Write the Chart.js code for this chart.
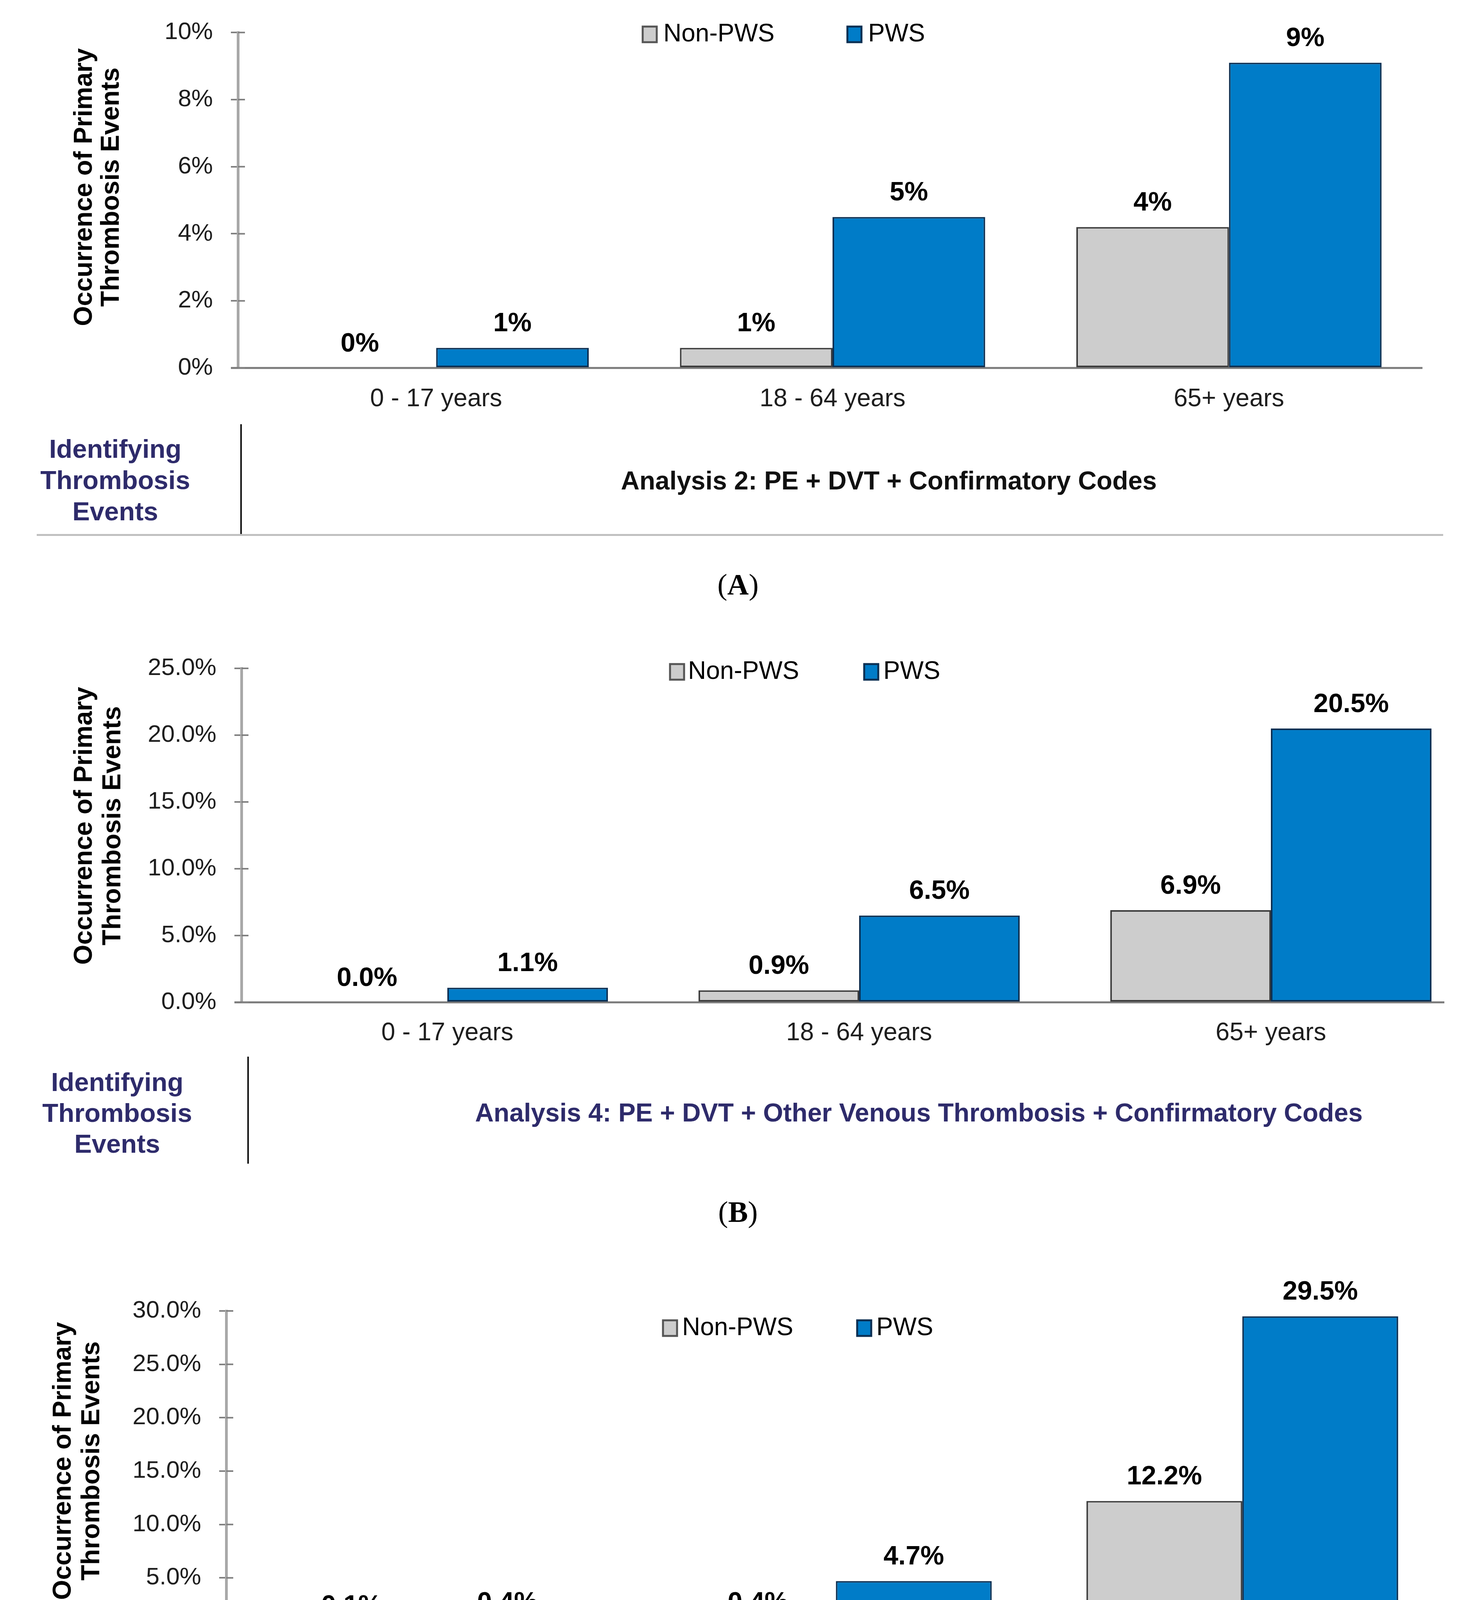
<!DOCTYPE html>
<html><head><meta charset="utf-8">
<script src="https://cdn.jsdelivr.net/npm/chart.js@4.4.0/dist/chart.umd.min.js"></script>
<style>
html,body{margin:0;padding:0;background:#fff;width:3778px;height:4796px;overflow:hidden;position:relative;}
canvas{position:absolute;left:0;}
.t{position:absolute;font-family:"Liberation Sans",Arial,sans-serif;font-weight:bold;white-space:nowrap;transform:translate(-50%,-50%);line-height:1;}
.navy{color:#2e2b6b;}
.blk{color:#111;}
.cap{position:absolute;font-family:"Liberation Serif","Times New Roman",serif;font-size:76px;transform:translate(-50%,-50%);line-height:1;color:#000;}
.ln{position:absolute;}
</style></head><body>
<canvas id="cA"></canvas>
<canvas id="cB"></canvas>
<canvas id="cC"></canvas>

<!-- Table A -->
<div class="ln" style="left:615px;top:1086px;width:4px;height:284px;background:#111;"></div>
<div class="ln" style="left:94px;top:1367px;width:3600px;height:5px;background:#c0c0c0;"></div>
<div class="t navy" style="left:295px;top:1148px;font-size:67px;">Identifying</div>
<div class="t navy" style="left:295px;top:1228px;font-size:67px;">Thrombosis</div>
<div class="t navy" style="left:295px;top:1308px;font-size:67px;">Events</div>
<div class="t blk" style="left:2275px;top:1230px;font-size:66px;">Analysis 2: PE + DVT + Confirmatory Codes</div>
<div class="cap" style="left:1889px;top:1496px;">(<b>A</b>)</div>

<!-- Table B -->
<div class="ln" style="left:633px;top:2705px;width:4px;height:274px;background:#111;"></div>
<div class="t navy" style="left:300px;top:2769px;font-size:67px;">Identifying</div>
<div class="t navy" style="left:300px;top:2848px;font-size:67px;">Thrombosis</div>
<div class="t navy" style="left:300px;top:2927px;font-size:67px;">Events</div>
<div class="t navy" style="left:2352px;top:2848px;font-size:66px;">Analysis 4: PE + DVT + Other Venous Thrombosis + Confirmatory Codes</div>
<div class="cap" style="left:1889px;top:3102px;">(<b>B</b>)</div>

<!-- Table C -->
<div class="ln" style="left:591px;top:4311px;width:4px;height:272px;background:#111;"></div>
<div class="ln" style="left:57px;top:4572px;width:3660px;height:4px;background:#c0c0c0;"></div>
<div class="ln" style="left:57px;top:4576px;width:3660px;height:7px;background:#000;"></div>
<div class="t navy" style="left:263px;top:4375px;font-size:66px;">Identifying</div>
<div class="t navy" style="left:263px;top:4449px;font-size:66px;">Thrombosis</div>
<div class="t navy" style="left:263px;top:4524px;font-size:66px;">Events</div>
<div class="t navy" style="left:2288px;top:4449px;font-size:66px;">Analysis 5: Arterial Thrombosis Codes</div>
<div class="cap" style="left:1889px;top:4715px;">(<b>C</b>)</div>

<script>
// ---- Data ----
const categories = ['0 - 17 years', '18 - 64 years', '65+ years'];
const seriesNames = ['Non-PWS', 'PWS'];
const nonPwsA = [0, 0.6, 4.2];
const pwsA    = [0.6, 4.5, 9.1];
const nonPwsB = [0.0, 0.9, 6.9];
const pwsB    = [1.1, 6.5, 20.5];
const nonPwsC = [0.1, 0.4, 12.2];
const pwsC    = [0.4, 4.7, 29.5];
const yMaxA = 10, yStepA = 2, decimalsA = 0;
const yMaxB = 25, yStepB = 5, decimalsB = 1;
const yMaxC = 30, yStepC = 5, decimalsC = 1;
const yTitleLines = ['Occurrence of Primary', 'Thrombosis Events'];

// ---- Styles ----
const GRAY_FILL = '#cdcdcd', GRAY_EDGE = '#3c3c3c';
const BLUE_FILL = '#007cc8', BLUE_EDGE = '#0c2f52';
const SANS = '"Liberation Sans", Arial, sans-serif';
const CANVAS_W = 3800;

// ---- Layout (page pixels) ----
const panels = [
  { id:'cA', nonPws:nonPwsA, pws:pwsA, yMax:yMaxA, yStep:yStepA, dec:decimalsA,
    top:0, height:1090, plotLeft:609, plotRight:3653, plotTop:81, zeroY:942, axisEnd:3641,
    catLabelY:1022, titleX:[217,286], titleY:479, catPct:0.77,
    legY:88, sq1:1645, tx1:1698, sq2:2169, tx2:2222 },
  { id:'cB', nonPws:nonPwsB, pws:pwsB, yMax:yMaxB, yStep:yStepB, dec:decimalsB,
    top:1560, height:1130, plotLeft:618, plotRight:3780, plotTop:1711, zeroY:2566, axisEnd:3697,
    catLabelY:2645, titleX:[217,290], titleY:2114, catPct:0.78,
    legY:1720, sq1:1715, tx1:1761, sq2:2212, tx2:2261 },
  { id:'cC', nonPws:nonPwsC, pws:pwsC, yMax:yMaxC, yStep:yStepC, dec:decimalsC,
    top:3250, height:1050, plotLeft:579, plotRight:3700, plotTop:3356, zeroY:4176, axisEnd:3702,
    catLabelY:4247, titleX:[163,236], titleY:3740, catPct:0.767,
    legY:3400, sq1:1697, tx1:1746, sq2:2194, tx2:2243 }
];

function makePlugin(p) {
  const o = p.top;
  return {
    id: 'custom_' + p.id,
    beforeDatasetsDraw(chart) {
      const ctx = chart.ctx, area = chart.chartArea, y = chart.scales.y;
      ctx.save();
      const zy = y.getPixelForValue(0);
      ctx.strokeStyle = '#7a7a7a'; ctx.lineWidth = 5;
      ctx.beginPath(); ctx.moveTo(area.left - 18, zy); ctx.lineTo(p.axisEnd, zy); ctx.stroke();
      // inward tick marks
      ctx.strokeStyle = '#808080'; ctx.lineWidth = 4;
      y.ticks.forEach((t, i) => {
        const py = y.getPixelForTick(i);
        ctx.beginPath(); ctx.moveTo(area.left, py); ctx.lineTo(area.left + 18, py); ctx.stroke();
      });
      ctx.restore();
    },
    afterDatasetsDraw(chart) {
      const ctx = chart.ctx, x = chart.scales.x;
      ctx.save();
      // data labels
      ctx.font = 'bold 68px ' + SANS; ctx.fillStyle = '#000';
      ctx.textAlign = 'center'; ctx.textBaseline = 'middle';
      chart.data.datasets.forEach((ds, di) => {
        chart.getDatasetMeta(di).data.forEach((bar, i) => {
          ctx.fillText(ds.data[i].toFixed(p.dec) + '%', bar.x, bar.y - 61);
        });
      });
      // category labels
      ctx.font = '64px ' + SANS; ctx.fillStyle = '#1e1e1e';
      categories.forEach((c, i) => ctx.fillText(c, x.getPixelForValue(i), p.catLabelY - o));
      // y title
      ctx.font = 'bold 66px ' + SANS; ctx.fillStyle = '#000';
      yTitleLines.forEach((t, i) => {
        ctx.save(); ctx.translate(p.titleX[i], p.titleY - o); ctx.rotate(-Math.PI / 2);
        ctx.fillText(t, 0, 0); ctx.restore();
      });
      // legend
      const ly = p.legY - o;
      const items = [[p.sq1, p.tx1, GRAY_FILL, '#555'], [p.sq2, p.tx2, BLUE_FILL, BLUE_EDGE]];
      items.forEach((it, i) => {
        ctx.fillStyle = it[2]; ctx.fillRect(it[0], ly - 20, 36, 40);
        ctx.strokeStyle = it[3]; ctx.lineWidth = 5; ctx.strokeRect(it[0], ly - 20, 36, 40);
        ctx.font = '64px ' + SANS; ctx.fillStyle = '#000'; ctx.textAlign = 'left';
        ctx.fillText(chart.data.datasets[i].label, it[1], ly);
      });
      ctx.restore();
    }
  };
}

panels.forEach(p => {
  const cv = document.getElementById(p.id);
  cv.width = CANVAS_W; cv.height = p.height;
  cv.style.width = CANVAS_W + 'px'; cv.style.height = p.height + 'px';
  cv.style.top = p.top + 'px';
  new Chart(cv, {
    type: 'bar',
    data: {
      labels: categories,
      datasets: [
        { label: seriesNames[0], data: p.nonPws, backgroundColor: GRAY_FILL, borderColor: GRAY_EDGE, borderWidth: 4, borderSkipped: false },
        { label: seriesNames[1], data: p.pws, backgroundColor: BLUE_FILL, borderColor: BLUE_EDGE, borderWidth: 4, borderSkipped: false }
      ]
    },
    options: {
      responsive: false, devicePixelRatio: 1, animation: false,
      categoryPercentage: p.catPct, barPercentage: 1.0,
      layout: { padding: { left: 0, top: p.plotTop - p.top, right: CANVAS_W - p.plotRight, bottom: 0 } },
      plugins: { legend: { display: false }, tooltip: { enabled: false }, title: { display: false } },
      scales: {
        x: {
          grid: { display: false, drawTicks: false }, border: { display: false },
          ticks: { display: false },
          afterFit: s => { s.height = p.height - (p.zeroY - p.top); }
        },
        y: {
          min: 0, max: p.yMax,
          ticks: { stepSize: p.yStep, padding: 46, color: '#1e1e1e', font: { family: SANS, size: 62 },
                   callback: v => Number(v).toFixed(p.dec) + '%' },
          grid: { display: true, drawOnChartArea: false, drawTicks: true, tickLength: 18, color: '#808080', lineWidth: 4 },
          border: { display: true, color: '#a8a8a8', width: 7 },
          afterFit: s => { s.width = p.plotLeft; }
        }
      }
    },
    plugins: [makePlugin(p)]
  });
});
</script>
</body></html>
